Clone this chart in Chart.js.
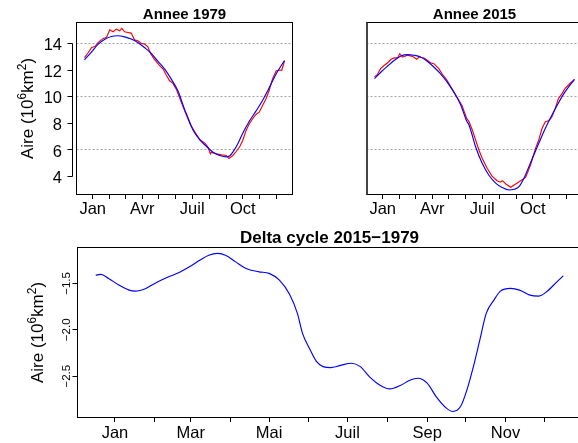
<!DOCTYPE html>
<html>
<head>
<meta charset="utf-8">
<script src="https://cdn.jsdelivr.net/npm/chart.js@4.4.0/dist/chart.umd.min.js"></script>
<style>
  html, body { margin: 0; padding: 0; width: 578px; height: 443px; overflow: hidden; background: #fff; }
  canvas { position: absolute; left: 0; top: 0; }
</style>
</head>
<body>
<canvas id="c1979" width="600" height="443" style="width:600px;height:443px"></canvas>
<canvas id="c2015" width="600" height="443" style="width:600px;height:443px"></canvas>
<canvas id="cDelta" width="600" height="443" style="width:600px;height:443px"></canvas>
<script>
// ---- Sea-ice area, 10^6 km², by day of year ----

// 1979: observed values
const days1979Obs = [1, 8, 14, 20, 26, 35, 41, 47, 53, 59, 65, 69, 74, 80, 86, 92, 98, 104, 110, 116,
  122, 128, 137, 144, 150, 156, 162, 168, 174, 182, 187, 193, 202, 211, 220, 226, 230, 232, 241, 250,
  259, 264, 271, 277, 283, 289, 295, 301, 307, 313, 319, 325, 331, 337, 343, 350, 356, 360, 365];
const area1979Obs = [12.94, 13.32, 13.70, 13.77, 14.08, 14.38, 14.45, 15.03, 14.88, 15.08, 14.95, 15.13,
  14.88, 14.83, 14.78, 14.28, 14.20, 14.02, 13.95, 13.77, 13.19, 12.82, 12.37, 12.07, 11.61, 11.19,
  10.99, 10.56, 9.93, 9.05, 8.55, 7.95, 7.32, 6.74, 6.49, 6.18, 5.68, 5.81, 5.68, 5.61, 5.56, 5.33,
  5.56, 5.86, 6.18, 6.69, 7.44, 7.95, 8.33, 8.65, 8.82, 9.33, 9.80, 10.46, 11.30, 11.95, 12.00, 11.98, 12.70];

// 1979: seasonal cycle fit
const days1979Fit = [1, 14, 26, 38, 50, 62, 74, 86, 98, 110, 122, 134, 147, 159, 171, 183, 187, 199,
  211, 223, 235, 247, 259, 265, 271, 280, 289, 301, 313, 325, 334, 350, 365];
const area1979Fit = [12.77, 13.37, 13.95, 14.32, 14.53, 14.58, 14.50, 14.33, 14.08, 13.70, 13.27, 12.69,
  12.07, 11.31, 10.43, 9.05, 8.65, 7.44, 6.74, 6.24, 5.81, 5.56, 5.45, 5.52, 5.81, 6.44, 7.24, 8.14,
  8.90, 9.70, 10.40, 11.72, 12.72];

// 2015: observed values
const days2015Obs = [1, 6, 12, 19, 25, 31, 37, 43, 47, 52, 61, 70, 78, 82, 91, 97, 103, 109, 118, 124,
  133, 142, 151, 160, 169, 173, 179, 185, 191, 197, 206, 215, 224, 230, 234, 240, 249, 258, 267, 276,
  285, 294, 300, 306, 312, 318, 324, 330, 336, 342, 348, 357, 365];
const area2015Obs = [11.48, 11.65, 12.10, 12.36, 12.55, 12.81, 12.91, 12.91, 13.23, 12.98, 13.11, 13.03,
  12.81, 12.98, 12.91, 12.73, 12.55, 12.48, 12.10, 11.72, 11.23, 10.59, 9.97, 9.34, 8.33, 8.11, 7.48,
  6.73, 5.97, 5.35, 4.60, 4.01, 3.66, 3.55, 3.66, 3.41, 3.16, 3.41, 3.66, 3.91, 4.84, 6.10, 6.73, 7.61,
  8.11, 8.18, 8.48, 9.12, 9.87, 10.20, 10.62, 11.00, 11.30];

// 2015: seasonal cycle fit
const days2015Fit = [1, 13, 25, 37, 49, 61, 73, 85, 97, 109, 121, 133, 145, 157, 169, 173, 185, 197,
  209, 222, 234, 246, 255, 264, 273, 282, 291, 300, 312, 324, 336, 348, 365];
const area2015Fit = [11.35, 11.85, 12.30, 12.73, 13.06, 13.16, 13.11, 12.98, 12.66, 12.23, 11.72, 11.10,
  10.35, 9.46, 8.14, 7.86, 6.22, 4.97, 4.09, 3.46, 3.13, 2.96, 3.01, 3.21, 3.84, 4.72, 5.60, 6.48,
  7.61, 8.61, 9.54, 10.37, 11.30];

// Difference of the seasonal cycles, 2015 minus 1979
const daysDelta = [1, 5, 11, 19, 27, 32, 40, 48, 56, 66, 74, 82, 89, 96, 102, 110, 118, 128, 136, 144,
  152, 158, 162, 168, 173, 178, 184, 191, 200, 207, 214, 222, 230, 238, 246, 252, 259, 266, 274, 279,
  285, 290, 295, 300, 305, 311, 316, 324, 331, 339, 346, 352, 360, 365];
const areaDelta = [-1.411, -1.403, -1.446, -1.518, -1.572, -1.583, -1.554, -1.493, -1.440, -1.382,
  -1.321, -1.250, -1.196, -1.177, -1.196, -1.268, -1.339, -1.375, -1.392, -1.465, -1.620, -1.823,
  -2.038, -2.217, -2.343, -2.397, -2.407, -2.386, -2.360, -2.397, -2.504, -2.594, -2.637, -2.601,
  -2.540, -2.522, -2.575, -2.719, -2.844, -2.880, -2.827, -2.647, -2.397, -2.110, -1.823, -1.680,
  -1.583, -1.554, -1.572, -1.626, -1.637, -1.590, -1.483, -1.418];

// Axis ticks
const monthTickDays = [16, 47, 75, 106, 136, 167, 197, 228, 259, 289, 320, 350];
const seasonMonthLabels = ['Jan', '', '', 'Avr', '', '', 'Juil', '', '', 'Oct', '', ''];
const deltaMonthLabels = ['Jan', '', 'Mar', '', 'Mai', '', 'Juil', '', 'Sep', '', 'Nov', ''];
const areaTicks = [4, 6, 8, 10, 12, 14];
const areaGridValues = [6, 10, 14];
const deltaTicks = [-1.5, -2.0, -2.5];
const deltaTickLabels = ['\u22121.5', '\u22122.0', '\u22122.5'];

// Axis limits (data range widened by 4% on each side)
const X_MIN = -13.56, X_MAX = 379.56;
const AREA_MIN = 2.62, AREA_MAX = 15.58;
const DELTA_MIN = -2.945, DELTA_MAX = -1.113;

const FONT = '"Liberation Sans", Arial, Helvetica, sans-serif';
const crisp = v => Math.round(v - 0.5) + 0.5;

// "Aire (10^6 km^2)" written upward, centred on (cx, cy), baseline at cx
function drawAreaTitle(ctx, cx, cy, size) {
  const parts = [['Aire (10', false], ['6', true], ['km', false], ['2', true], [')', false]];
  const supSize = size * 0.7;
  const fontOf = sup => (sup ? supSize : size) + 'px ' + FONT;
  let total = 0;
  parts.forEach(([t, sup]) => { ctx.font = fontOf(sup); total += ctx.measureText(t).width; });
  ctx.save();
  ctx.translate(cx, cy);
  ctx.rotate(-Math.PI / 2);
  ctx.fillStyle = '#000';
  ctx.textBaseline = 'alphabetic';
  ctx.textAlign = 'left';
  let pos = -total / 2;
  parts.forEach(([t, sup]) => {
    ctx.font = fontOf(sup);
    ctx.fillText(t, pos, sup ? -size * 0.42 : 0);
    pos += ctx.measureText(t).width;
  });
  ctx.restore();
}

// Frame, axes, grid and titles in the style of a base-graphics plot
const framePlugin = {
  id: 'frame',
  beforeDatasetsDraw(chart, args, o) {
    const { ctx, chartArea: a, scales: { y } } = chart;
    if (!o.grid) return;
    ctx.save();
    ctx.strokeStyle = '#a6a6a6';
    ctx.lineWidth = 1;
    ctx.setLineDash([2, 2]);
    o.grid.forEach(v => {
      const py = crisp(y.getPixelForValue(v));
      ctx.beginPath();
      ctx.moveTo(a.left, py);
      ctx.lineTo(a.right, py);
      ctx.stroke();
    });
    ctx.restore();
  },
  afterDraw(chart, args, o) {
    const { ctx, chartArea: a, scales: { x, y } } = chart;
    ctx.save();
    ctx.strokeStyle = '#000';
    ctx.fillStyle = '#000';
    ctx.lineWidth = 1;

    // plot box
    const L = crisp(a.left), R = crisp(a.right), T = crisp(a.top), B = crisp(a.bottom);
    ctx.strokeRect(L, T, R - L, B - T);
    if (o.thickLeft) {
      ctx.strokeStyle = '#444';
      ctx.lineWidth = 2;
      ctx.beginPath(); ctx.moveTo(L + 0.5, T); ctx.lineTo(L + 0.5, B); ctx.stroke();
      ctx.strokeStyle = '#000';
      ctx.lineWidth = 1;
    }

    // x axis: month ticks
    ctx.font = o.xFont + 'px ' + FONT;
    ctx.textAlign = 'center';
    ctx.textBaseline = 'alphabetic';
    o.xTicks.forEach((d, i) => {
      const px = x.getPixelForValue(d);
      ctx.beginPath();
      ctx.moveTo(crisp(px), B);
      ctx.lineTo(crisp(px), B + 4.5);
      ctx.stroke();
      if (o.xLabels[i]) ctx.fillText(o.xLabels[i], px, a.bottom + o.xLabelDy);
    });

    // y axis
    if (o.yMode === 'horizontal') {
      const ax = crisp(a.left - 4);
      const y0 = y.getPixelForValue(o.yTicks[0]);
      const y1 = y.getPixelForValue(o.yTicks[o.yTicks.length - 1]);
      ctx.beginPath(); ctx.moveTo(ax, crisp(y0)); ctx.lineTo(ax, crisp(y1)); ctx.stroke();
      ctx.font = o.yFont + 'px ' + FONT;
      ctx.textAlign = 'right';
      o.yTicks.forEach((v, i) => {
        const py = y.getPixelForValue(v);
        ctx.beginPath(); ctx.moveTo(ax, crisp(py)); ctx.lineTo(ax - 5, crisp(py)); ctx.stroke();
        ctx.fillText(o.yLabels[i], ax - 10.5, py + o.yFont * 0.36 + 1);
      });
    } else if (o.yMode === 'rotated') {
      ctx.font = o.yFont + 'px ' + FONT;
      ctx.textAlign = 'center';
      o.yTicks.forEach((v, i) => {
        const py = y.getPixelForValue(v);
        ctx.beginPath(); ctx.moveTo(L, crisp(py)); ctx.lineTo(L - 5, crisp(py)); ctx.stroke();
        ctx.save();
        ctx.translate(a.left - 7, py);
        ctx.rotate(-Math.PI / 2);
        ctx.fillText(o.yLabels[i], 0, 0);
        ctx.restore();
      });
    }

    // axis title
    if (o.yTitleX) drawAreaTitle(ctx, o.yTitleX, (a.top + a.bottom) / 2, o.yTitleSize);

    // main title
    ctx.font = 'bold ' + o.titleSize + 'px ' + FONT;
    ctx.textAlign = 'center';
    ctx.fillText(o.title, (a.left + a.right) / 2, o.titleY);
    ctx.restore();
  }
};

const toPoints = (days, vals) => days.map((d, i) => ({ x: d, y: vals[i] }));

function obsSeries(days, vals) {
  return { data: toPoints(days, vals), borderColor: '#ff0000', borderWidth: 1.15,
           pointRadius: 0, fill: false, tension: 0 };
}
function fitSeries(days, vals) {
  return { data: toPoints(days, vals), borderColor: '#0000ff', borderWidth: 1.15,
           pointRadius: 0, fill: false, cubicInterpolationMode: 'monotone' };
}

function panel(id, datasets, yMin, yMax, padding, frame) {
  return new Chart(document.getElementById(id), {
    type: 'line',
    data: { datasets },
    options: {
      responsive: false,
      animation: false,
      events: [],
      layout: { padding },
      scales: {
        x: { type: 'linear', display: false, min: X_MIN, max: X_MAX },
        y: { type: 'linear', display: false, min: yMin, max: yMax }
      },
      plugins: { legend: { display: false }, title: { display: false }, tooltip: { enabled: false }, frame }
    },
    plugins: [framePlugin]
  });
}

// Annee 1979 (fit listed first so it is drawn over the observations)
panel('c1979',
  [fitSeries(days1979Fit, area1979Fit), obsSeries(days1979Obs, area1979Obs)],
  AREA_MIN, AREA_MAX,
  { left: 76.5, top: 22.5, right: 307.5, bottom: 248.5 },
  { title: 'Annee 1979', titleSize: 15, titleY: 18.5,
    grid: areaGridValues,
    xTicks: monthTickDays, xLabels: seasonMonthLabels, xFont: 16.5, xLabelDy: 19,
    yMode: 'horizontal', yTicks: areaTicks, yLabels: areaTicks.map(String), yFont: 16.5,
    yTitleX: 33, yTitleSize: 17 });

// Annee 2015
panel('c2015',
  [fitSeries(days2015Fit, area2015Fit), obsSeries(days2015Obs, area2015Obs)],
  AREA_MIN, AREA_MAX,
  { left: 366.5, top: 22.5, right: 17.5, bottom: 248.5 },
  { title: 'Annee 2015', titleSize: 15, titleY: 18.5, thickLeft: true,
    grid: areaGridValues,
    xTicks: monthTickDays, xLabels: seasonMonthLabels, xFont: 16.5, xLabelDy: 19,
    yMode: 'none' });

// Delta cycle 2015−1979
panel('cDelta',
  [fitSeries(daysDelta, areaDelta)],
  DELTA_MIN, DELTA_MAX,
  { left: 77, top: 247.5, right: 18, bottom: 25.5 },
  { title: 'Delta cycle 2015\u22121979', titleSize: 17, titleY: 243,
    xTicks: monthTickDays, xLabels: deltaMonthLabels, xFont: 16.5, xLabelDy: 20,
    yMode: 'rotated', yTicks: deltaTicks, yLabels: deltaTickLabels, yFont: 11.5,
    yTitleX: 43, yTitleSize: 17 });
</script>
</body>
</html>
